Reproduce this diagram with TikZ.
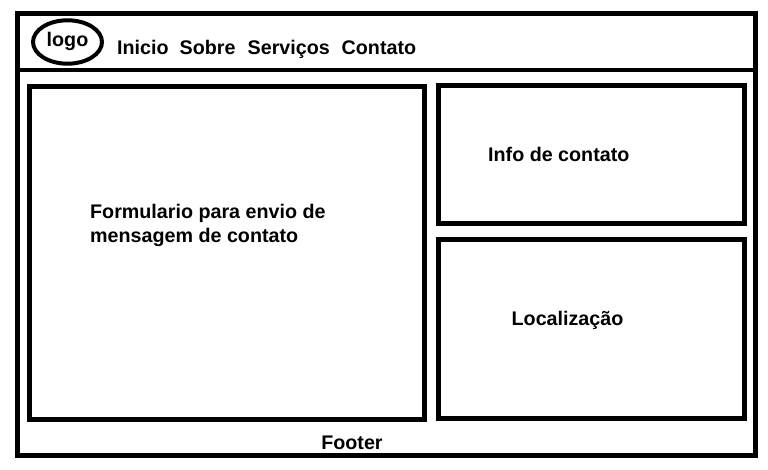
\documentclass[tikz,border=0pt]{standalone}
\usepackage{fontspec}
\setmainfont{Liberation Sans}
\begin{document}
\begin{tikzpicture}[x=1pt,y=-1pt,
 box/.style={draw=black,line width=5pt,fill=white,line join=miter},
 lbl/.style={font=\fontsize{19.7}{23}\selectfont\bfseries,anchor=base west,inner sep=0pt,align=left}]
\useasboundingbox[fill=white] (0,0) rectangle (768,470);
\draw[box] (17.5,13.5) rectangle (755.5,455.5);
\coordinate (hl) at (17.5,70); \coordinate (hr) at (755.5,70);
\draw[line width=3.6pt] (hl) -- (hr);
\draw[box] (29.5,86.5) rectangle (424.8,419.2);
\draw[box] (438.5,86) rectangle (744.7,223.5);
\draw[box] (438.5,239.5) rectangle (744,418.5);
\draw[line width=4pt] (67.5,42) ellipse (34.5 and 21.7);
\node[lbl,anchor=base] (logo) at (67.5,46.7) {logo};
\node[lbl] (inicio) at (117,55) {Inicio};
\node[lbl] (sobre) at (179.5,55) {Sobre};
\node[lbl] (serv) at (247.5,55) {Serviços};
\node[lbl] (cont) at (341.5,55) {Contato};
\node[lbl] (form1) at (90,219) {Formulario para envio de};
\node[lbl] (form2) at (90,243) {mensagem de contato};
\node[lbl] (info) at (488,161.6) {Info de contato};
\node[lbl] (loc) at (511.5,325) {Localização};
\node[lbl,anchor=base] (foot) at (352,449) {Footer};
\end{tikzpicture}
\end{document}
